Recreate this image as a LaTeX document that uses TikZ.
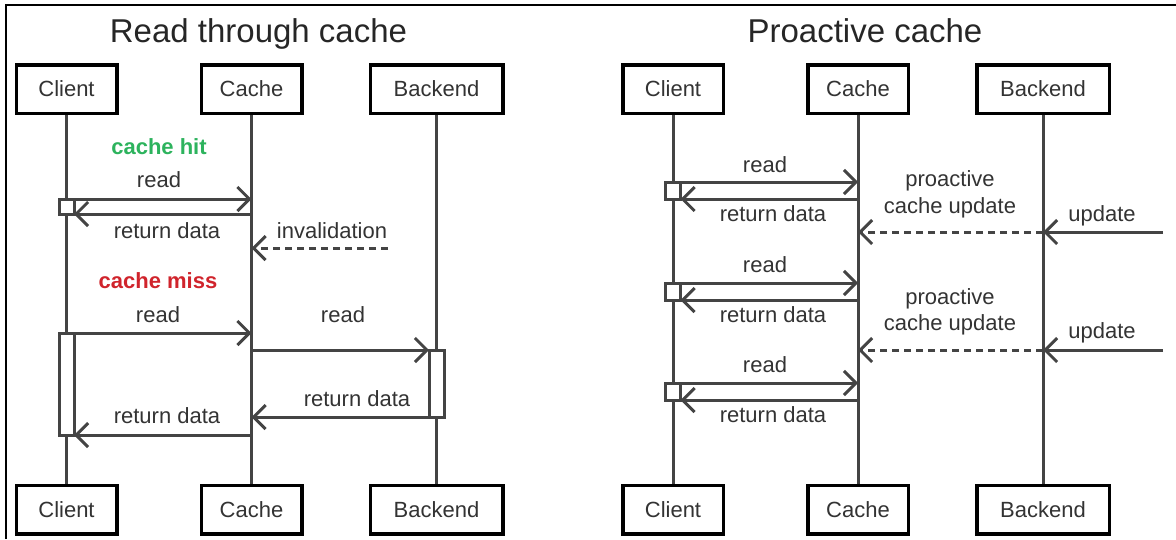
\documentclass[tikz,border=0pt]{standalone}
\usepackage{fontspec}
\setmainfont{Liberation Sans}
\usetikzlibrary{chains,positioning,arrows.meta}

\definecolor{ink}{HTML}{333333}
\definecolor{wire}{HTML}{444444}
\definecolor{hitgreen}{HTML}{2DB35D}
\definecolor{missred}{HTML}{D0242C}

\begin{document}
\begin{tikzpicture}[x=1pt,y=-1pt]
        \useasboundingbox (0,0) rectangle (1176,539);
        \tikzstyle{every path}=[line width=3pt]

        \edef\sizeactor{48.5pt}
        \tikzstyle{actor}=[draw=black,line width=3.5pt,fill=white,minimum width=100.5pt,minimum height=\sizeactor,text=ink,font=\fontsize{22}{26}\selectfont]
        \tikzstyle{wide}=[minimum width=132.5pt]
        \tikzstyle{life}=[draw=wire]
        \tikzstyle{bar}=[draw=wire,fill=white,minimum width=15pt,inner sep=0pt,outer sep=0pt]
        \tikzstyle{msg}=[draw=wire,-{Straight Barb[length=12pt,width=24pt]}]
        \tikzstyle{push}=[msg,dash pattern=on 7pt off 5pt]
        \tikzstyle{lbl}=[text=ink,anchor=base,inner sep=0pt,font=\fontsize{22}{26}\selectfont]
        \tikzstyle{title}=[text=black!85,anchor=base,inner sep=0pt,font=\fontsize{33}{40}\selectfont]

        %frame
        \draw [black,line width=2pt] (6,539) -- (6,5) -- (1176,5);

        \foreach \s/\xs/\t in {L/66.5/Read through cache, R/673/Proactive cache} {
            \begin{scope}[xshift=\xs pt,start chain=going right,node distance=185pt,on grid]
            \node [on chain,actor] (\s_client) at (0,89) {Client};
            \node [on chain,actor] (\s_cache) {Cache};
            \node [on chain,actor,wide] (\s_backend) {Backend};
            \end{scope}
            \begin{scope}[xshift=\xs pt,start chain=going right,node distance=185pt,on grid]
            \node [on chain,actor] (\s_client_end) at (0,509.5) {Client};
            \node [on chain,actor] (\s_cache_end) {Cache};
            \node [on chain,actor,wide] (\s_backend_end) {Backend};
            \end{scope}
            \node [title,xshift=7pt,yshift=21pt] (\s_title) at (\s_cache.north) {\t};
            \draw [life] (\s_client) -- (\s_client_end);
            \draw [life] (\s_cache) -- (\s_cache_end);
            \draw [life] (\s_backend) -- (\s_backend_end);
        };

        %read through cache
        \node [bar,minimum height=15pt] (L_hit) at (L_client |- 0,206.5) {};
        \draw [msg] (L_hit.north east) -- (L_hit.north east -| L_cache);
        \draw [msg] (L_hit.south east -| L_cache) -- (L_hit.south east);
        \coordinate (L_inv) at (388,248);
        \draw [push] (L_inv) -- (L_inv -| L_cache);

        \node [bar,minimum height=102pt] (L_miss) at (L_client |- 0,384) {};
        \node [bar,minimum height=67pt] (L_fetch) at (L_backend |- 0,383.5) {};
        \draw [msg] (L_miss.north east) -- (L_miss.north east -| L_cache);
        \draw [msg] (L_fetch.north west -| L_cache) -- (L_fetch.north west);
        \draw [msg] (L_fetch.south west) -- (L_fetch.south west -| L_cache);
        \draw [msg] (L_miss.south east -| L_cache) -- (L_miss.south east);

        \node [lbl,text=hitgreen,font=\fontsize{22}{26}\selectfont\bfseries] (L_hit_label) at (159,154) {cache hit};
        \node [lbl,text=missred,font=\fontsize{22}{26}\selectfont\bfseries] (L_miss_label) at (158,288) {cache miss};
        \foreach \t/\x/\y [count=\i] in {read/159/187, return data/167/238, invalidation/332/238,
                read/158/322, read/343/322, return data/357/406, return data/167/423} {
            \node [lbl] (L_lbl\i) at (\x,\y) {\t};
        };

        %proactive cache
        \foreach \i/\y in {1/190.5, 2/291.5, 3/391.5} {
            \node [bar,minimum height=17pt] (R_hit\i) at (R_client |- 0,\y) {};
            \draw [msg] (R_hit\i.north east) -- (R_hit\i.north east -| R_cache);
            \draw [msg] (R_hit\i.south east -| R_cache) -- (R_hit\i.south east);
        };
        \foreach \i/\y in {1/232, 2/350} {
            \coordinate (R_src\i) at (1163,\y);
            \draw [msg] (R_src\i) -- (R_src\i -| R_backend);
            \draw [push] (R_src\i -| R_backend) -- (R_src\i -| R_cache);
        };

        \foreach \t/\x/\y [count=\i] in {read/765/172, return data/773/221, proactive/950/186,
                cache update/950/213, update/1102/221, read/765/272, return data/773/322,
                proactive/950/304, cache update/950/330, update/1102/338, read/765/372,
                return data/773/422} {
            \node [lbl] (R_lbl\i) at (\x,\y) {\t};
        };
\end{tikzpicture}
\end{document}
